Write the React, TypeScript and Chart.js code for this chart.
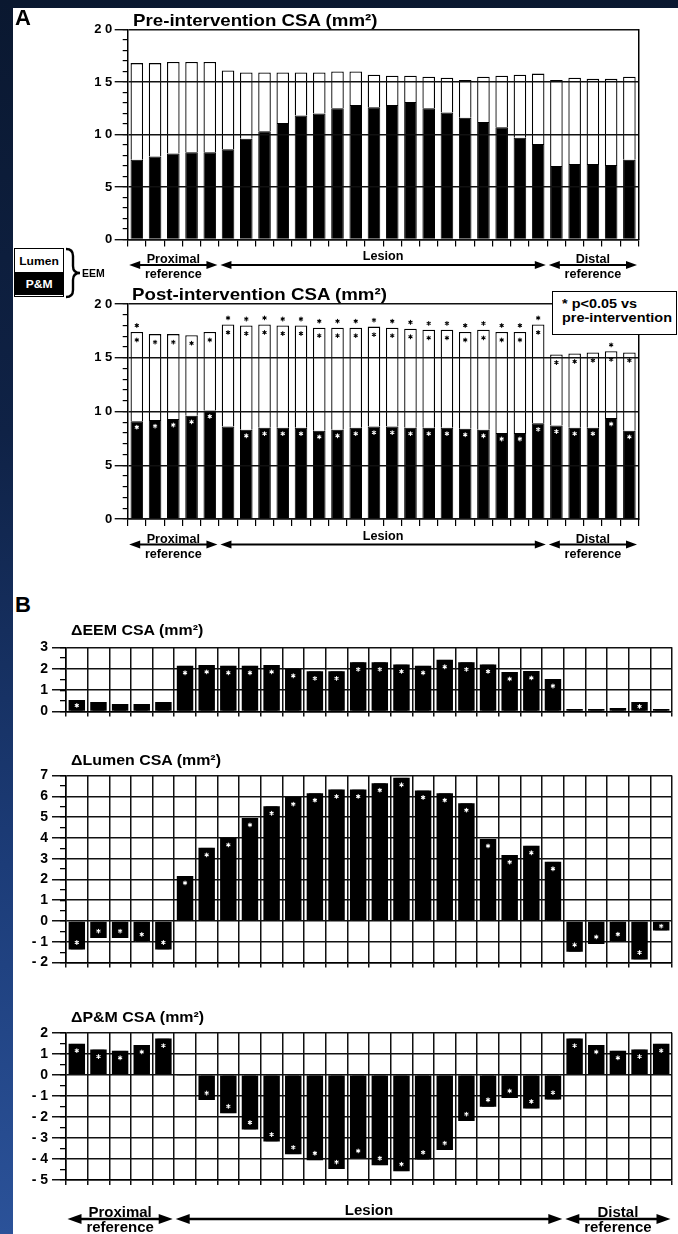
import React, { useEffect, useRef } from "react";
import { Chart, registerables } from "chart.js";

Chart.register(...registerables);

const FONT = "'Liberation Sans', Arial, Helvetica, sans-serif";
const PAGE_W = 678;
Chart.defaults.font.family = FONT;

// ---------- data ----------
const SEGMENTS = [
  "1", "2", "3", "4", "5", "6", "7", "8", "9", "10", "11", "12", "13", "14",
  "15", "16", "17", "18", "19", "20", "21", "22", "23", "24", "25", "26", "27", "28",
];

const REGION_LABELS = [["Proximal", "reference"], ["Lesion"], ["Distal", "reference"]];
const REGION_FIRST = [0, 5, 23];
const REGION_LAST = [4, 22, 27];

// Pre-intervention CSA (mm2)
const PRE_EEM = [16.8, 16.8, 16.9, 16.9, 16.9, 16.1, 15.9, 15.9, 15.9, 15.9, 15.9, 16.0, 16.0, 15.7, 15.6, 15.6, 15.5, 15.4, 15.2, 15.5, 15.6, 15.7, 15.8, 15.2, 15.4, 15.3, 15.3, 15.5];
const PRE_PM = [7.6, 7.9, 8.2, 8.3, 8.3, 8.6, 9.6, 10.3, 11.1, 11.8, 12.0, 12.5, 12.8, 12.6, 12.8, 13.1, 12.5, 12.1, 11.6, 11.2, 10.7, 9.7, 9.1, 7.0, 7.2, 7.2, 7.1, 7.6];

// Post-intervention CSA (mm2)
const POST_EEM = [17.4, 17.2, 17.2, 17.1, 17.4, 18.1, 18.0, 18.1, 18.0, 18.0, 17.8, 17.8, 17.8, 17.9, 17.8, 17.7, 17.6, 17.6, 17.4, 17.6, 17.4, 17.4, 18.1, 15.3, 15.4, 15.5, 15.6, 15.5];
const POST_PM = [9.1, 9.2, 9.3, 9.6, 10.1, 8.6, 8.3, 8.5, 8.5, 8.5, 8.2, 8.3, 8.5, 8.6, 8.6, 8.5, 8.5, 8.5, 8.4, 8.3, 8.0, 8.0, 8.9, 8.7, 8.5, 8.5, 9.4, 8.2];

// Changes (mm2)
const DELTA_EEM = [0.54, 0.45, 0.35, 0.35, 0.45, 2.14, 2.18, 2.14, 2.14, 2.18, 2.0, 1.88, 1.88, 2.3, 2.3, 2.2, 2.14, 2.42, 2.3, 2.2, 1.85, 1.9, 1.52, 0.12, 0.12, 0.17, 0.45, 0.12];
const DELTA_LUMEN = [-1.37, -0.82, -0.82, -0.98, -1.37, 2.17, 3.52, 4.0, 4.96, 5.52, 5.96, 6.15, 6.33, 6.33, 6.63, 6.89, 6.28, 6.15, 5.67, 3.95, 3.17, 3.62, 2.85, -1.48, -1.1, -0.97, -1.85, -0.45];
const DELTA_PM = [1.48, 1.2, 1.14, 1.42, 1.72, -0.04, -1.2, -1.83, -2.6, -3.17, -3.78, -4.06, -4.48, -3.95, -4.3, -4.58, -4.02, -3.58, -2.2, -1.52, -1.1, -1.6, -1.18, 1.72, 1.42, 1.14, 1.2, 1.48];

// * p<0.05 vs pre-intervention (1 = significant)
const SIG_EEM = [1, 0, 0, 0, 0, 1, 1, 1, 1, 1, 1, 1, 1, 1, 1, 1, 1, 1, 1, 1, 1, 1, 1, 0, 0, 0, 1, 0];
const SIG_LUMEN = [1, 1, 1, 1, 1, 1, 1, 1, 1, 1, 1, 1, 1, 1, 1, 1, 1, 1, 1, 1, 1, 1, 1, 1, 1, 1, 1, 1];
const SIG_PM = [1, 1, 1, 1, 1, 0, 1, 1, 1, 1, 1, 1, 1, 1, 1, 1, 1, 1, 1, 1, 1, 1, 1, 1, 1, 1, 1, 1];

const CSA_RANGE = [0, 20];
const DEEM_RANGE = [0, 3];
const DLUMEN_RANGE = [-2, 7];
const DPM_RANGE = [-5, 2];

// ---------- plugins ----------
function drawAsterisk(ctx: any, x: number, y: number, color: string) {
  const r = 1.9;
  ctx.save();
  ctx.strokeStyle = color;
  ctx.lineWidth = 1.05;
  ctx.lineCap = "round";
  ctx.beginPath();
  for (let k = 0; k < 3; k++) {
    const a = Math.PI / 2 + (k * Math.PI) / 3;
    ctx.moveTo(x - r * Math.cos(a), y - r * Math.sin(a));
    ctx.lineTo(x + r * Math.cos(a), y + r * Math.sin(a));
  }
  ctx.stroke();
  ctx.restore();
}

type StarSpec = { dataset: number; flags: number[]; mode: string; offset: number; color: string };

function starPlugin(specs: StarSpec[]) {
  return {
    id: "stars",
    afterDraw(chart: any) {
      const ctx = chart.ctx;
      specs.forEach((s) => {
        const meta = chart.getDatasetMeta(s.dataset);
        meta.data.forEach((el: any, i: number) => {
          if (!s.flags[i]) return;
          const p = el.getProps(["x", "y", "base"], true);
          const up = p.y <= p.base;
          const len = Math.abs(p.base - p.y);
          let sy: number;
          if (s.mode === "above") sy = up ? p.y - s.offset : p.y + s.offset;
          else {
            const d = Math.min(s.offset, len / 2);
            sy = up ? p.y + d : p.y - d;
          }
          drawAsterisk(ctx, p.x, sy, s.color);
        });
      });
    },
  };
}

type RegionStyle = { size: number; stretch: number; line1: number; line2: number; single: number; arrow: number; head: number; half: number; lw: number };

const SMALL_REGION: RegionStyle = { size: 12, stretch: 1.05, line1: 23.5, line2: 38.5, single: 20.5, arrow: 25.5, head: 11, half: 4, lw: 1.8 };
const BIG_REGION: RegionStyle = { size: 14, stretch: 1.07, line1: 37, line2: 52, single: 35, arrow: 39, head: 14, half: 5, lw: 2.3 };

function regionPlugin(st: RegionStyle) {
  return {
    id: "regions",
    afterDraw(chart: any) {
      const x = chart.scales.x;
      const ctx = chart.ctx;
      const b = chart.chartArea.bottom;
      const step = x.getPixelForValue(1) - x.getPixelForValue(0);
      ctx.save();
      ctx.fillStyle = "#000";
      ctx.strokeStyle = "#000";
      REGION_LABELS.forEach((lines, r) => {
        const l = x.getPixelForValue(REGION_FIRST[r]) - step / 2 + 1.5;
        const rr = x.getPixelForValue(REGION_LAST[r]) + step / 2 - 1.5;
        const ay = b + st.arrow;
        ctx.lineWidth = st.lw;
        ctx.beginPath();
        ctx.moveTo(l + st.head - 1, ay);
        ctx.lineTo(rr - st.head + 1, ay);
        ctx.stroke();
        ctx.beginPath();
        ctx.moveTo(l, ay);
        ctx.lineTo(l + st.head, ay - st.half);
        ctx.lineTo(l + st.head, ay + st.half);
        ctx.closePath();
        ctx.fill();
        ctx.beginPath();
        ctx.moveTo(rr, ay);
        ctx.lineTo(rr - st.head, ay - st.half);
        ctx.lineTo(rr - st.head, ay + st.half);
        ctx.closePath();
        ctx.fill();
        const cx = (l + rr) / 2;
        ctx.font = `bold ${st.size}px ${FONT}`;
        ctx.textAlign = "center";
        ctx.textBaseline = "alphabetic";
        const ys = lines.length === 1 ? [b + st.single] : [b + st.line1, b + st.line2];
        lines.forEach((t, k) => {
          ctx.save();
          ctx.translate(cx, ys[k]);
          ctx.scale(st.stretch, 1);
          ctx.fillText(t, 0, 0);
          ctx.restore();
        });
      });
      ctx.restore();
    },
  };
}

// ---------- chart configs ----------
type Geo = { top: number; bottom: number; height: number };

function csaConfig(pm: number[], eem: number[], geo: Geo, stars: StarSpec[]) {
  const left = 127.7;
  const right = 638.5;
  const yW = 40;
  const xTick = 7;
  const tickFont = { family: FONT, size: 13, weight: "bold" };
  return {
    type: "bar",
    data: {
      labels: SEGMENTS,
      datasets: [
        { label: "P&M", data: pm, backgroundColor: "#000", borderColor: "#000", borderWidth: 1, barPercentage: 0.69, categoryPercentage: 1, grouped: false, xAxisID: "x", yAxisID: "y" },
        { label: "Lumen", data: pm.map((v, i) => [v, eem[i]]), backgroundColor: "#fff", borderColor: "#000", borderWidth: 1.3, barPercentage: 0.69, categoryPercentage: 1, grouped: false, xAxisID: "x", yAxisID: "y" },
      ],
    },
    options: {
      responsive: false,
      animation: false,
      devicePixelRatio: 1,
      events: [],
      layout: { padding: { left: left - yW, right: PAGE_W - right, top: geo.top, bottom: geo.height - geo.bottom - xTick } },
      plugins: { legend: { display: false }, tooltip: { enabled: false } },
      scales: {
        x: {
          type: "category",
          offset: true,
          ticks: { display: false },
          grid: { offset: true, drawOnChartArea: false, tickLength: xTick, color: "#000", lineWidth: 1.2 },
          border: { display: true, color: "#000", width: 1.5, z: 1 },
          afterFit: (s: any) => { s.height = xTick; },
        },
        y: {
          type: "linear", axis: "y", position: "left", weight: 1,
          min: CSA_RANGE[0], max: CSA_RANGE[1],
          ticks: { stepSize: 5, color: "#000", font: tickFont, padding: 2.5, callback: (v: any) => String(v).split("").join(" ") },
          grid: { color: "#111", lineWidth: 1.4, tickLength: 13, z: 1 },
          border: { display: true, color: "#000", width: 1.5, z: 1 },
          afterFit: (s: any) => { s.width = yW; },
        },
        yMinor: {
          type: "linear", axis: "y", position: "left", weight: 0,
          min: CSA_RANGE[0], max: CSA_RANGE[1],
          ticks: { stepSize: 1, display: false },
          grid: { drawOnChartArea: false, tickLength: 5, color: "#000", lineWidth: 1.2 },
          border: { display: false },
          afterFit: (s: any) => { s.width = 0; },
        },
        yRight: {
          type: "linear", axis: "y", position: "right",
          min: CSA_RANGE[0], max: CSA_RANGE[1],
          ticks: { display: false },
          grid: { display: false },
          border: { display: true, color: "#000", width: 1.5, z: 1 },
          afterFit: (s: any) => { s.width = 0; },
        },
      },
    },
    plugins: [starPlugin(stars), regionPlugin(SMALL_REGION)],
  };
}

function deltaConfig(vals: number[], range: number[], geo: Geo, flags: number[], withRegions: boolean) {
  const left = 66;
  const right = 672;
  const yW = 48;
  const xTick = 5;
  return {
    type: "bar",
    data: {
      labels: SEGMENTS,
      datasets: [
        { data: vals, backgroundColor: "#000", borderWidth: 0, barPercentage: 0.76, categoryPercentage: 1, grouped: false, xAxisID: "x", yAxisID: "y" },
        { data: vals, backgroundColor: "#000", borderColor: "#fff", borderWidth: { left: 1, right: 1, top: 0, bottom: 0 }, borderSkipped: false, barPercentage: 0.64, categoryPercentage: 1, grouped: false, xAxisID: "x", yAxisID: "y" },
      ],
    },
    options: {
      responsive: false,
      animation: false,
      devicePixelRatio: 1,
      events: [],
      layout: { padding: { left: left - yW, right: PAGE_W - right, top: geo.top, bottom: geo.height - geo.bottom - xTick } },
      plugins: { legend: { display: false }, tooltip: { enabled: false } },
      scales: {
        x: {
          type: "category",
          offset: true,
          ticks: { display: false },
          grid: { offset: true, color: "#111", lineWidth: 1.5, tickLength: xTick },
          border: { display: true, color: "#000", width: 1.5 },
          afterFit: (s: any) => { s.height = xTick; },
        },
        y: {
          type: "linear", axis: "y", position: "left", weight: 1,
          min: range[0], max: range[1],
          ticks: { stepSize: 1, color: "#000", font: { family: FONT, size: 14, weight: "bold" }, padding: 4, callback: (v: any) => (v < 0 ? "- " + Math.abs(v) : String(v)) },
          grid: { color: "#111", lineWidth: 1.5, tickLength: 14 },
          border: { display: true, color: "#000", width: 1.5 },
          afterFit: (s: any) => { s.width = yW; },
        },
        yMinor: {
          type: "linear", axis: "y", position: "left", weight: 0,
          min: range[0], max: range[1],
          ticks: { stepSize: 0.5, display: false },
          grid: { drawOnChartArea: false, tickLength: 6, color: "#000", lineWidth: 1.3 },
          border: { display: false },
          afterFit: (s: any) => { s.width = 0; },
        },
      },
    },
    plugins: [
      starPlugin([{ dataset: 1, flags, mode: "inside", offset: 7, color: "#fff" }]),
      ...(withRegions ? [regionPlugin(BIG_REGION)] : []),
    ],
  };
}

// ---------- components ----------
function ChartCanvas({ top, height, make }: { top: number; height: number; make: () => any }) {
  const ref = useRef<HTMLCanvasElement>(null);
  useEffect(() => {
    const chart = new Chart(ref.current as HTMLCanvasElement, make());
    return () => chart.destroy();
  }, []);
  return (
    <canvas
      ref={ref}
      width={PAGE_W}
      height={height}
      style={{ position: "absolute", left: 0, top, width: PAGE_W, height, display: "block" }}
    />
  );
}

function Txt({ x, baseline, size, stretch = 1, color = "#000", children }: any) {
  return (
    <div
      style={{
        position: "absolute",
        left: x,
        top: baseline - 0.8465 * size,
        fontFamily: FONT,
        fontWeight: "bold",
        fontSize: size,
        lineHeight: 1,
        whiteSpace: "nowrap",
        color,
        transform: `scaleX(${stretch})`,
        transformOrigin: "left top",
      }}
    >
      {children}
    </div>
  );
}

const postStars: StarSpec[] = [
  { dataset: 1, flags: SIG_EEM, mode: "above", offset: 6.5, color: "#000" },
  { dataset: 1, flags: SIG_LUMEN, mode: "inside", offset: 8, color: "#000" },
  { dataset: 0, flags: SIG_PM, mode: "inside", offset: 6, color: "#fff" },
];

export default function App() {
  return (
    <div
      style={{
        position: "fixed",
        left: 0,
        top: 0,
        width: PAGE_W,
        height: 1234,
        overflow: "hidden",
        background: "linear-gradient(180deg, #0a1830 0%, #0f2246 35%, #1c3c78 70%, #2b5299 100%)",
      }}
    >
      <div style={{ position: "absolute", left: 13, top: 8, right: 0, bottom: 0, background: "#fff" }} />

      <ChartCanvas top={0} height={285} make={() => csaConfig(PRE_PM, PRE_EEM, { top: 29.5, bottom: 239.5, height: 285 }, [])} />
      <ChartCanvas top={285} height={275} make={() => csaConfig(POST_PM, POST_EEM, { top: 19, bottom: 234, height: 275 }, postStars)} />
      <ChartCanvas top={620} height={104} make={() => deltaConfig(DELTA_EEM, DEEM_RANGE, { top: 27.3, bottom: 91.7, height: 104 }, SIG_EEM, false)} />
      <ChartCanvas top={745} height={230} make={() => deltaConfig(DELTA_LUMEN, DLUMEN_RANGE, { top: 30.5, bottom: 219, height: 230 }, SIG_LUMEN, false)} />
      <ChartCanvas top={995} height={239} make={() => deltaConfig(DELTA_PM, DPM_RANGE, { top: 37.7, bottom: 185, height: 239 }, SIG_PM, true)} />

      {/* Panel A */}
      <Txt x={15} baseline={25.8} size={22}>A</Txt>
      <Txt x={133} baseline={26} size={17} stretch={1.1}>Pre-intervention CSA (mm²)</Txt>
      <Txt x={132} baseline={300} size={17} stretch={1.1}>Post-intervention CSA (mm²)</Txt>

      {/* Legend */}
      <div
        style={{
          position: "absolute", left: 14, top: 248, width: 50, height: 49,
          border: "1.5px solid #000", boxSizing: "border-box", background: "#fff",
          fontFamily: FONT, fontWeight: "bold", fontSize: 11,
        }}
      >
        <div style={{ height: 23, display: "flex", alignItems: "center", justifyContent: "center", color: "#000" }}>
          <span style={{ display: "inline-block", transform: "scaleX(1.1)" }}>Lumen</span>
        </div>
        <div style={{ height: 23, background: "#000", display: "flex", alignItems: "center", justifyContent: "center", color: "#fff" }}>
          <span style={{ display: "inline-block", transform: "scaleX(1.1)" }}>P&amp;M</span>
        </div>
      </div>
      <svg style={{ position: "absolute", left: 0, top: 0 }} width={120} height={320}>
        <path
          d="M66,249 Q73,249 73,256 L73,266 Q73,273 80,273 Q73,273 73,280 L73,290 Q73,297 66,297"
          fill="none"
          stroke="#000"
          strokeWidth={2.4}
        />
      </svg>
      <Txt x={82} baseline={277} size={10.5}>EEM</Txt>

      {/* significance note */}
      <div
        style={{
          position: "absolute", left: 552, top: 290.5, width: 125, height: 44,
          border: "1.5px solid #000", boxSizing: "border-box", background: "#fff",
        }}
      />
      <Txt x={562} baseline={308} size={13.5} stretch={1.07}>* p&lt;0.05 vs</Txt>
      <Txt x={562} baseline={322} size={13.5} stretch={1.07}>pre-intervention</Txt>

      {/* Panel B */}
      <Txt x={15} baseline={612.8} size={22}>B</Txt>
      <Txt x={71} baseline={635} size={14.5} stretch={1.1}>ΔEEM CSA (mm²)</Txt>
      <Txt x={71} baseline={765} size={14.5} stretch={1.1}>ΔLumen CSA (mm²)</Txt>
      <Txt x={71} baseline={1022} size={14.5} stretch={1.1}>ΔP&amp;M CSA (mm²)</Txt>
    </div>
  );
}
